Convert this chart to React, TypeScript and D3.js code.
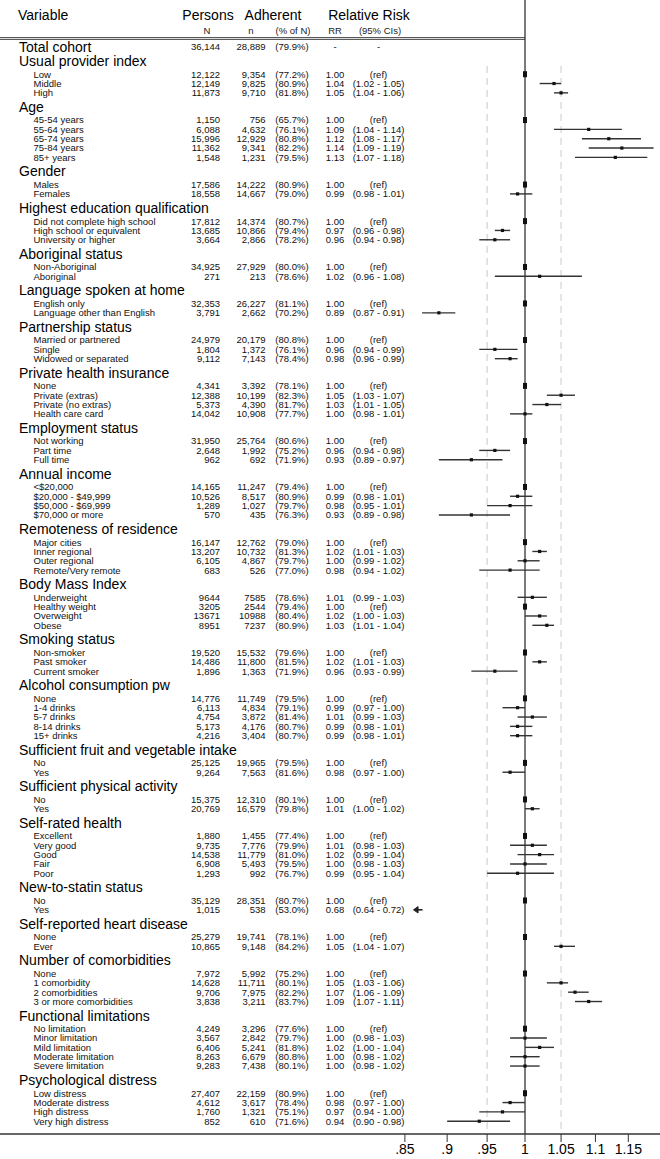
import React from "react";
import * as d3 from "d3";

type Row = [string, string, string, number, number, number | null, number | null];

const totalCohort = { label: "Total cohort", N: "36,144", n: "28,889", pct: 79.9 };

const usualProvider: Row[] = [
  ["Low", "12,122", "9,354", 77.2, 1.0, null, null],
  ["Middle", "12,149", "9,825", 80.9, 1.04, 1.02, 1.05],
  ["High", "11,873", "9,710", 81.8, 1.05, 1.04, 1.06],
];
const age: Row[] = [
  ["45-54 years", "1,150", "756", 65.7, 1.0, null, null],
  ["55-64 years", "6,088", "4,632", 76.1, 1.09, 1.04, 1.14],
  ["65-74 years", "15,996", "12,929", 80.8, 1.12, 1.08, 1.17],
  ["75-84 years", "11,362", "9,341", 82.2, 1.14, 1.09, 1.19],
  ["85+ years", "1,548", "1,231", 79.5, 1.13, 1.07, 1.18],
];
const gender: Row[] = [
  ["Males", "17,586", "14,222", 80.9, 1.0, null, null],
  ["Females", "18,558", "14,667", 79.0, 0.99, 0.98, 1.01],
];
const education: Row[] = [
  ["Did not complete high school", "17,812", "14,374", 80.7, 1.0, null, null],
  ["High school or equivalent", "13,685", "10,866", 79.4, 0.97, 0.96, 0.98],
  ["University or higher", "3,664", "2,866", 78.2, 0.96, 0.94, 0.98],
];
const aboriginal: Row[] = [
  ["Non-Aboriginal", "34,925", "27,929", 80.0, 1.0, null, null],
  ["Aboriginal", "271", "213", 78.6, 1.02, 0.96, 1.08],
];
const language: Row[] = [
  ["English only", "32,353", "26,227", 81.1, 1.0, null, null],
  ["Language other than English", "3,791", "2,662", 70.2, 0.89, 0.87, 0.91],
];
const partnership: Row[] = [
  ["Married or partnered", "24,979", "20,179", 80.8, 1.0, null, null],
  ["Single", "1,804", "1,372", 76.1, 0.96, 0.94, 0.99],
  ["Widowed or separated", "9,112", "7,143", 78.4, 0.98, 0.96, 0.99],
];
const insurance: Row[] = [
  ["None", "4,341", "3,392", 78.1, 1.0, null, null],
  ["Private (extras)", "12,388", "10,199", 82.3, 1.05, 1.03, 1.07],
  ["Private (no extras)", "5,373", "4,390", 81.7, 1.03, 1.01, 1.05],
  ["Health care card", "14,042", "10,908", 77.7, 1.0, 0.98, 1.01],
];
const employment: Row[] = [
  ["Not working", "31,950", "25,764", 80.6, 1.0, null, null],
  ["Part time", "2,648", "1,992", 75.2, 0.96, 0.94, 0.98],
  ["Full time", "962", "692", 71.9, 0.93, 0.89, 0.97],
];
const income: Row[] = [
  ["<$20,000", "14,165", "11,247", 79.4, 1.0, null, null],
  ["$20,000 - $49,999", "10,526", "8,517", 80.9, 0.99, 0.98, 1.01],
  ["$50,000 - $69,999", "1,289", "1,027", 79.7, 0.98, 0.95, 1.01],
  ["$70,000 or more", "570", "435", 76.3, 0.93, 0.89, 0.98],
];
const remoteness: Row[] = [
  ["Major cities", "16,147", "12,762", 79.0, 1.0, null, null],
  ["Inner regional", "13,207", "10,732", 81.3, 1.02, 1.01, 1.03],
  ["Outer regional", "6,105", "4,867", 79.7, 1.0, 0.99, 1.02],
  ["Remote/Very remote", "683", "526", 77.0, 0.98, 0.94, 1.02],
];
const bmi: Row[] = [
  ["Underweight", "9644", "7585", 78.6, 1.01, 0.99, 1.03],
  ["Healthy weight", "3205", "2544", 79.4, 1.0, null, null],
  ["Overweight", "13671", "10988", 80.4, 1.02, 1.0, 1.03],
  ["Obese", "8951", "7237", 80.9, 1.03, 1.01, 1.04],
];
const smoking: Row[] = [
  ["Non-smoker", "19,520", "15,532", 79.6, 1.0, null, null],
  ["Past smoker", "14,486", "11,800", 81.5, 1.02, 1.01, 1.03],
  ["Current smoker", "1,896", "1,363", 71.9, 0.96, 0.93, 0.99],
];
const alcohol: Row[] = [
  ["None", "14,776", "11,749", 79.5, 1.0, null, null],
  ["1-4 drinks", "6,113", "4,834", 79.1, 0.99, 0.97, 1.0],
  ["5-7 drinks", "4,754", "3,872", 81.4, 1.01, 0.99, 1.03],
  ["8-14 drinks", "5,173", "4,176", 80.7, 0.99, 0.98, 1.01],
  ["15+ drinks", "4,216", "3,404", 80.7, 0.99, 0.98, 1.01],
];
const fruitVeg: Row[] = [
  ["No", "25,125", "19,965", 79.5, 1.0, null, null],
  ["Yes", "9,264", "7,563", 81.6, 0.98, 0.97, 1.0],
];
const physical: Row[] = [
  ["No", "15,375", "12,310", 80.1, 1.0, null, null],
  ["Yes", "20,769", "16,579", 79.8, 1.01, 1.0, 1.02],
];
const selfRated: Row[] = [
  ["Excellent", "1,880", "1,455", 77.4, 1.0, null, null],
  ["Very good", "9,735", "7,776", 79.9, 1.01, 0.98, 1.03],
  ["Good", "14,538", "11,779", 81.0, 1.02, 0.99, 1.04],
  ["Fair", "6,908", "5,493", 79.5, 1.0, 0.98, 1.03],
  ["Poor", "1,293", "992", 76.7, 0.99, 0.95, 1.04],
];
const newStatin: Row[] = [
  ["No", "35,129", "28,351", 80.7, 1.0, null, null],
  ["Yes", "1,015", "538", 53.0, 0.68, 0.64, 0.72],
];
const heart: Row[] = [
  ["None", "25,279", "19,741", 78.1, 1.0, null, null],
  ["Ever", "10,865", "9,148", 84.2, 1.05, 1.04, 1.07],
];
const comorbidities: Row[] = [
  ["None", "7,972", "5,992", 75.2, 1.0, null, null],
  ["1 comorbidity", "14,628", "11,711", 80.1, 1.05, 1.03, 1.06],
  ["2 comorbidities", "9,706", "7,975", 82.2, 1.07, 1.06, 1.09],
  ["3 or more comorbidities", "3,838", "3,211", 83.7, 1.09, 1.07, 1.11],
];
const functional: Row[] = [
  ["No limitation", "4,249", "3,296", 77.6, 1.0, null, null],
  ["Minor limitation", "3,567", "2,842", 79.7, 1.0, 0.98, 1.03],
  ["Mild limitation", "6,406", "5,241", 81.8, 1.02, 1.0, 1.04],
  ["Moderate limitation", "8,263", "6,679", 80.8, 1.0, 0.98, 1.02],
  ["Severe limitation", "9,283", "7,438", 80.1, 1.0, 0.98, 1.02],
];
const distress: Row[] = [
  ["Low distress", "27,407", "22,159", 80.9, 1.0, null, null],
  ["Moderate distress", "4,612", "3,617", 78.4, 0.98, 0.97, 1.0],
  ["High distress", "1,760", "1,321", 75.1, 0.97, 0.94, 1.0],
  ["Very high distress", "852", "610", 71.6, 0.94, 0.9, 0.98],
];

const groupNames = [
  "Usual provider index", "Age", "Gender", "Highest education qualification",
  "Aboriginal status", "Language spoken at home", "Partnership status",
  "Private health insurance", "Employment status", "Annual income",
  "Remoteness of residence", "Body Mass Index", "Smoking status",
  "Alcohol consumption pw", "Sufficient fruit and vegetable intake",
  "Sufficient physical activity", "Self-rated health", "New-to-statin status",
  "Self-reported heart disease", "Number of comorbidities",
  "Functional limitations", "Psychological distress",
];
const groupRows: Row[][] = [
  usualProvider, age, gender, education, aboriginal, language, partnership,
  insurance, employment, income, remoteness, bmi, smoking, alcohol, fruitVeg,
  physical, selfRated, newStatin, heart, comorbidities, functional, distress,
];

const tickValues = [0.85, 0.9, 0.95, 1, 1.05, 1.1, 1.15];
const tickLabels = [".85", ".9", ".95", "1", "1.05", "1.1", "1.15"];
const axisDomain: [number, number] = [0.85, 1.15];
const offScaleArrowAt = 0.86;

const W = 660;
const H = 1159;
const FONT = "'Liberation Sans', Arial, Helvetica, sans-serif";

export default function App() {
  const x = d3.scaleLog().domain(axisDomain).range([404.9, 628.3]);
  const fmt2 = d3.format(".2f");
  const fmtPct = (p: number) => `(${p.toFixed(1)}%)`;

  const axisY = 1134;
  const yTotal = 46.7;
  const itemStep = 9.33;

  type Laid = { kind: "head"; label: string; y: number } | { kind: "item"; row: Row; y: number };
  const laid: Laid[] = [];
  let y = 61;
  let lastItemY = 0;
  groupNames.forEach((g, gi) => {
    if (gi > 0) y = lastItemY + 14;
    laid.push({ kind: "head", label: g, y });
    y += 13.2;
    groupRows[gi].forEach((r) => {
      laid.push({ kind: "item", row: r, y });
      lastItemY = y;
      y += itemStep;
    });
  });

  const headX = 19;
  const itemX = 33.5;
  const colN = 220;
  const coln = 265.5;
  const colPct = 292;
  const colRR = 335;
  const colCI = 378.5;
  const small = 9.5;
  const big = 14;
  const x1 = x(1);

  return (
    <svg
      width={W}
      height={H}
      style={{ position: "absolute", left: 0, top: 0, background: "#fff" }}
      fontFamily={FONT}
    >
      <rect x={0} y={0} width={W} height={H} fill="#fff" />
      {/* header */}
      <g fill="#000" fontSize={big}>
        <text x={headX - 1} y={20}>Variable</text>
        <text x={208} y={20} textAnchor="middle">Persons</text>
        <text x={273} y={20} textAnchor="middle">Adherent</text>
        <text x={369} y={20} textAnchor="middle">Relative Risk</text>
      </g>
      <g fill="#222" fontSize={small} textAnchor="middle">
        <text x={207} y={33.5}>N</text>
        <text x={251} y={33.5}>n</text>
        <text x={293} y={33.5}>(% of N)</text>
        <text x={335} y={33.5}>RR</text>
        <text x={380} y={33.5}>(95% CIs)</text>
      </g>
      <line x1={0} x2={x1} y1={37.6} y2={37.6} stroke="#333" strokeWidth={0.9} />
      <line x1={0} x2={x1} y1={39.4} y2={39.4} stroke="#333" strokeWidth={0.9} />

      {/* reference lines */}
      {[0.95, 1.05].map((v) => (
        <line key={v} x1={x(v)} x2={x(v)} y1={66} y2={axisY} stroke="#bdbdbd" strokeWidth={0.8} strokeDasharray="7,5" />
      ))}
      <line x1={x1} x2={x1} y1={0} y2={axisY} stroke="#222" strokeWidth={1.2} />

      {/* total cohort */}
      <text x={headX} y={yTotal + 5} fontSize={big} fill="#000">{totalCohort.label}</text>
      <g fontSize={small} fill="#111">
        <text x={colN} y={yTotal + 3.4} textAnchor="end">{totalCohort.N}</text>
        <text x={coln} y={yTotal + 3.4} textAnchor="end">{totalCohort.n}</text>
        <text x={colPct} y={yTotal + 3.4} textAnchor="middle">{fmtPct(totalCohort.pct)}</text>
        <text x={colRR} y={yTotal + 3.4} textAnchor="middle">-</text>
        <text x={colCI} y={yTotal + 3.4} textAnchor="middle">-</text>
      </g>

      {laid.map((d, i) => {
        if (d.kind === "head") {
          return (
            <text key={i} x={headX} y={d.y + 5} fontSize={big} fill="#000">{d.label}</text>
          );
        }
        const [label, N, n, pct, rr, lo, hi] = d.row;
        const ty = d.y + 3.4;
        const isRef = lo === null;
        const off = !isRef && (hi as number) < axisDomain[0];
        return (
          <g key={i}>
            <g fontSize={small} fill="#111">
              <text x={itemX} y={ty}>{label}</text>
              <text x={colN} y={ty} textAnchor="end">{N}</text>
              <text x={coln} y={ty} textAnchor="end">{n}</text>
              <text x={colPct} y={ty} textAnchor="middle">{fmtPct(pct)}</text>
              <text x={colRR} y={ty} textAnchor="middle">{fmt2(rr)}</text>
              <text x={colCI} y={ty} textAnchor="middle">
                {isRef ? "(ref)" : `(${fmt2(lo as number)} - ${fmt2(hi as number)})`}
              </text>
            </g>
            {isRef ? (
              <rect x={x(rr) - 2} y={d.y - 3} width={4} height={6} fill="#111" />
            ) : off ? (
              <g fill="#222" stroke="#222">
                <polygon
                  points={`${x(offScaleArrowAt)},${d.y} ${x(offScaleArrowAt) + 4.5},${d.y - 3.2} ${x(offScaleArrowAt) + 4.5},${d.y + 3.2}`}
                />
                <line x1={x(offScaleArrowAt) + 4} x2={x(offScaleArrowAt) + 9} y1={d.y} y2={d.y} strokeWidth={1.6} />
              </g>
            ) : (
              <g>
                <line x1={x(lo as number)} x2={x(hi as number)} y1={d.y} y2={d.y} stroke="#333" strokeWidth={1.4} />
                <rect x={x(rr) - 1.6} y={d.y - 1.6} width={3.2} height={3.2} fill="#111" />
              </g>
            )}
          </g>
        );
      })}

      {/* axis */}
      <line x1={0} x2={W} y1={axisY} y2={axisY} stroke="#333" strokeWidth={1.3} />
      {tickValues.map((v, i) => (
        <g key={v}>
          <line x1={x(v)} x2={x(v)} y1={axisY} y2={axisY + 8} stroke="#333" strokeWidth={1} />
          <text x={x(v)} y={axisY + 20} fontSize={big} textAnchor="middle" fill="#000">{tickLabels[i]}</text>
        </g>
      ))}
    </svg>
  );
}
